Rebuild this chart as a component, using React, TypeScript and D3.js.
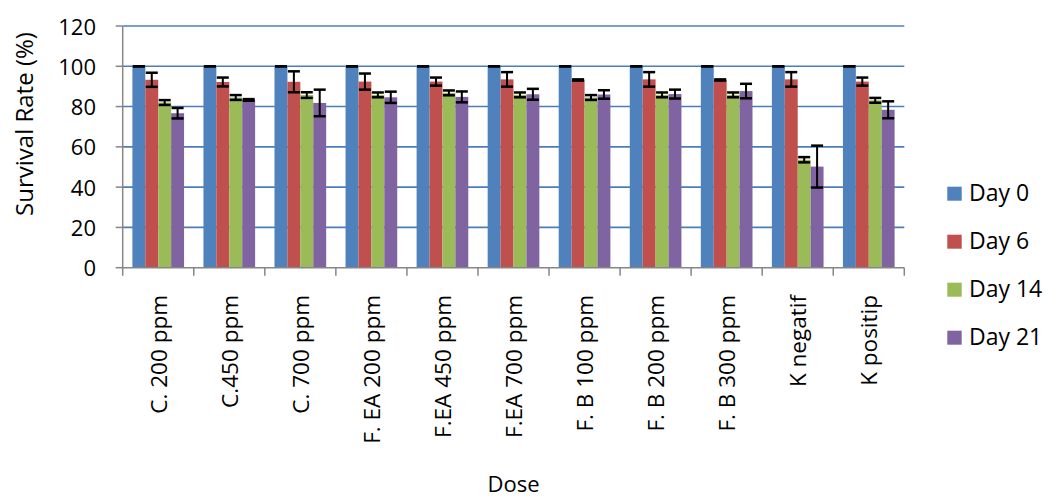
import React from "react";
import * as d3 from "d3";

const categories = ["C. 200 ppm", "C.450 ppm", "C. 700 ppm", "F. EA 200 ppm", "F.EA 450 ppm", "F.EA 700 ppm", "F. B 100 ppm", "F. B 200 ppm", "F. B 300 ppm", "K negatif", "K positip"];
const seriesNames = ["Day 0", "Day 6", "Day 14", "Day 21"];
const day0 = [100, 100, 100, 100, 100, 100, 100, 100, 100, 100, 100];
const day6 = [93.3, 92.2, 92.3, 92.4, 92.4, 93.5, 93.2, 93.5, 93.2, 93.5, 92.4];
const day14 = [82.0, 84.5, 85.7, 85.8, 86.8, 85.8, 84.5, 85.8, 85.8, 53.6, 83.1];
const day21 = [76.7, 83.3, 81.8, 84.6, 84.8, 86.1, 86.0, 86.2, 87.7, 50.2, 78.4];
const err0 = [0, 0, 0, 0, 0, 0, 0, 0, 0, 0, 0];
const err6 = [3.5, 2.2, 5.2, 4.0, 2.0, 3.6, 0.3, 3.6, 0.3, 3.6, 2.0];
const err14 = [1.2, 1.2, 1.4, 1.2, 1.2, 1.2, 1.2, 1.2, 1.2, 1.3, 1.2];
const err21 = [2.6, 0.4, 6.6, 2.8, 2.7, 2.7, 2.1, 2.2, 3.6, 10.4, 4.2];
const yTicks = [0, 20, 40, 60, 80, 100, 120];
const colors = ["#4F81BD", "#C0504D", "#9BBB59", "#8064A2"];

const W = 1046;
const H = 498;
const left = 122.7;
const right = 904.3;
const top = 26;
const bottom = 267.7;
const FONT = "'Open Sans', 'Liberation Sans', sans-serif";

export default function App() {
  const values = [day0, day6, day14, day21];
  const errs = [err0, err6, err14, err21];
  const x0 = d3.scaleBand<string>().domain(categories).range([left, right]).padding(0);
  const x1 = d3
    .scaleBand<string>()
    .domain(seriesNames)
    .range([0, x0.bandwidth()])
    .paddingInner(0)
    .paddingOuter(0.75);
  const y = d3.scaleLinear().domain([0, 120]).range([bottom, top]);
  const bw = x1.bandwidth();
  const capHalf = 6;

  return (
    <svg
      width={W}
      height={H}
      style={{ position: "absolute", left: 0, top: 0, background: "#fff" }}
      fontFamily={FONT}
    >
      {yTicks.filter((t) => t > 0).map((t) => (
        <line key={"g" + t} x1={left} x2={right} y1={y(t)} y2={y(t)} stroke="#4A7EBB" strokeWidth={1.6} />
      ))}
      {categories.map((c, i) => (
        <g key={c}>
          {seriesNames.map((s, k) => (
            <rect
              key={s}
              x={(x0(c) as number) + (x1(s) as number)}
              y={y(values[k][i])}
              width={bw}
              height={y(0) - y(values[k][i])}
              fill={colors[k]}
            />
          ))}
        </g>
      ))}
      {categories.map((c, i) => (
        <g key={"e" + c}>
          {seriesNames.map((s, k) => {
            const cx = (x0(c) as number) + (x1(s) as number) + bw / 2;
            const v = values[k][i];
            const e = errs[k][i];
            return (
              <g key={s} stroke="#000">
                <line x1={cx} x2={cx} y1={y(v + e)} y2={y(v - e)} strokeWidth={2} />
                <line x1={cx - capHalf} x2={cx + capHalf} y1={y(v + e)} y2={y(v + e)} strokeWidth={2.5} />
                <line x1={cx - capHalf} x2={cx + capHalf} y1={y(v - e)} y2={y(v - e)} strokeWidth={2.5} />
              </g>
            );
          })}
        </g>
      ))}
      <line x1={left} x2={left} y1={top} y2={bottom} stroke="#868686" strokeWidth={1.5} />
      {yTicks.map((t) => (
        <g key={"yt" + t}>
          <line x1={left - 7} x2={left} y1={y(t)} y2={y(t)} stroke="#868686" strokeWidth={1.5} />
          <text x={96} y={y(t) + 8.5} textAnchor="end" fontSize={22} fill="#000">
            {t}
          </text>
        </g>
      ))}
      <line x1={left} x2={right} y1={bottom} y2={bottom} stroke="#868686" strokeWidth={1.5} />
      {categories.map((c) => (
        <line key={"xt" + c} x1={x0(c) as number} x2={x0(c) as number} y1={bottom} y2={bottom + 8} stroke="#868686" strokeWidth={1.5} />
      ))}
      <line x1={right} x2={right} y1={bottom} y2={bottom + 8} stroke="#868686" strokeWidth={1.5} />
      {categories.map((c) => {
        const cx = (x0(c) as number) + x0.bandwidth() / 2;
        return (
          <text
            key={"xl" + c}
            transform={`translate(${cx + 8.5},295) rotate(-90)`}
            textAnchor="end"
            fontSize={22.5}
            fill="#000"
          >
            {c}
          </text>
        );
      })}
      <text transform="translate(33,124) rotate(-90)" textAnchor="middle" fontSize={24} fill="#000">
        Survival Rate (%)
      </text>
      <text x={513.5} y={492} textAnchor="middle" fontSize={22} fill="#000">
        Dose
      </text>
      {seriesNames.map((s, k) => (
        <g key={"lg" + s}>
          <rect x={947.3} y={186.7 + k * 48} width={14.4} height={14} fill={colors[k]} />
          <text x={969} y={200.7 + k * 48} fontSize={23} fill="#000">
            {s}
          </text>
        </g>
      ))}
    </svg>
  );
}
